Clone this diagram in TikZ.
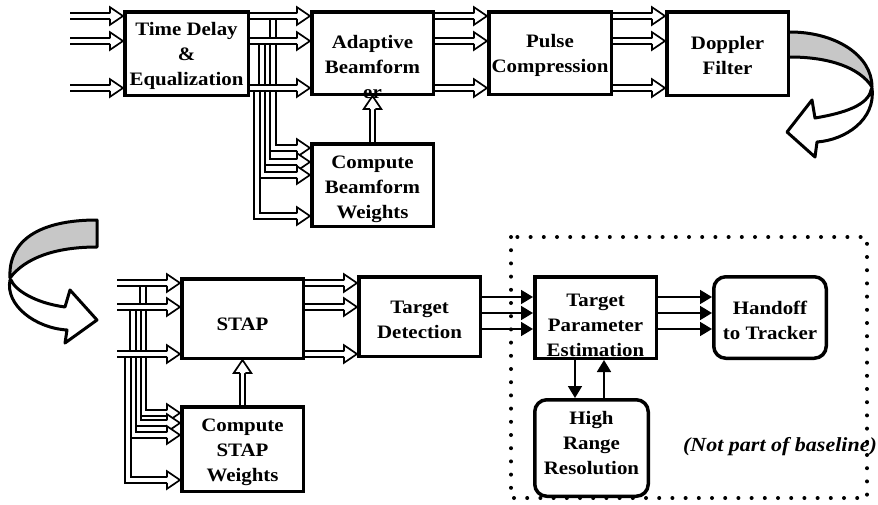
\documentclass[tikz,border=0pt]{standalone}
\usepackage{fontspec}
\setmainfont{Liberation Serif}[FakeStretch=1.1]
\usetikzlibrary{arrows.meta}
\usetikzlibrary{calc}
\usetikzlibrary{decorations.markings}

\tikzset{
  box/.style={draw, line width=3.5pt, minimum width=121.5pt, minimum height=82.5pt, inner sep=0pt},
  rbox/.style={box, rounded corners=12pt},
  txt/.style={align=center, inner sep=0pt, font=\fontsize{19}{25}\selectfont\bfseries},
  pipe/.style={double, double distance=3.8pt, line width=1.7pt},
  hollow/.style={pipe, shorten >=12pt,
    postaction={decorate, decoration={markings, mark=at position 1 with {
      \draw[line width=1.7pt, shorten >=0pt, fill=white, line join=miter]
        (-13pt,2.75pt) -- (-13pt,8.8pt) -- (0pt,0pt) -- (-13pt,-8.8pt) -- (-13pt,-2.75pt);}}}},
  sarrow/.style={line width=1.8pt, -{Triangle[length=12pt,width=14pt]}},
  ribbon/.style={line width=3pt, line join=round},
  dots/.style={line width=4pt, line cap=round, dash pattern=on 0pt off 13.2pt},
}

\begin{document}
\begin{tikzpicture}[x=1pt, y=-1pt]
\useasboundingbox (0,0) rectangle (878,504);

%texts
\node[txt] (td-t) at (186.5,56) {Time Delay\\\&\\Equalization};
\node[txt] (ab-t) at (372.5,67) {Adaptive\\Beamform\\er};
\node[txt] (pc-t) at (550,55) {Pulse\\Compression};
\node[txt] (df-t) at (727.5,55) {Doppler\\Filter};
\node[txt] (cbw-t) at (372.5,189) {Compute\\Beamform\\Weights};
\node[txt] (stap-t) at (242.5,324) {STAP};
\node[txt] (csw-t) at (242.5,452) {Compute\\STAP\\Weights};
\node[txt] (tdet-t) at (419.5,320) {Target\\Detection};
\node[txt] (tpe-t) at (595.5,325) {Target\\Parameter\\Estimation};
\node[txt] (hand-t) at (770,320) {Handoff\\to Tracker};
\node[txt] (hrr-t) at (591.5,443) {High\\Range\\Resolution};

%boxes
\node[box, minimum width=123.5pt, minimum height=83.5pt] (td) at (186.5,53.5) {};
\node[box] (ab) at (372.5,53) {};
\node[box, minimum width=122.5pt] (pc) at (550,53) {};
\node[box, minimum height=83.5pt] (df) at (727.5,53.5) {};
\node[box] (cbw) at (372.5,185) {};
\node[box, minimum height=79.5pt] (stap) at (242.5,318.5) {};
\node[box, minimum height=84.5pt] (csw) at (242.5,449) {};
\node[box, minimum height=79.5pt] (tdet) at (419.5,316.5) {};
\node[box, minimum height=81.5pt] (tpe) at (595.5,317.5) {};
\node[rbox, minimum width=112.5pt, minimum height=81.5pt] (hand) at (770,317.5) {};
\node[rbox, minimum width=113.5pt, minimum height=96.5pt] (hrr) at (591.5,448) {};

\coordinate (in-top) at (70,0);
\coordinate (in-bot) at (117,0);

%branches to the weight computations
\foreach \s/\y/\t in {23/16/148, 17/41/162, 12/41/175, 7/88/216} {
  \draw[hollow] ($(td.east |- 0,\y)+(\s,0)$) |- (cbw.west |- 0,\t);
}
\foreach \s/\y/\t in {26/283/413, 21/307/423, 16/307/435, 11/354/480} {
  \draw[hollow] ($(in-bot |- 0,\y)+(\s,0)$) |- (csw.west |- 0,\t);
}

%top row
\foreach \y in {16,41,88} {
  \draw[hollow] (in-top |- 0,\y) -- (td.west |- 0,\y);
  \draw[hollow] (td.east |- 0,\y) -- (ab.west |- 0,\y);
  \draw[hollow] (ab.east |- 0,\y) -- (pc.west |- 0,\y);
  \draw[hollow] (pc.east |- 0,\y) -- (df.west |- 0,\y);
}
\draw[hollow] (cbw.north) -- (ab.south);

%bottom row
\foreach \y in {283,307,354} {
  \draw[hollow] (in-bot |- 0,\y) -- (stap.west |- 0,\y);
  \draw[hollow] (stap.east |- 0,\y) -- (tdet.west |- 0,\y);
}
\draw[hollow] (csw.north) -- (stap.south);

\foreach \y in {297,313,329} {
  \draw[sarrow] (tdet.east |- 0,\y) -- (tpe.west |- 0,\y);
  \draw[sarrow] (tpe.east |- 0,\y) -- (hand.west |- 0,\y);
}
\draw[sarrow] (tpe.south -| 575,0) -- (hrr.north -| 575,0);
\draw[sarrow] (hrr.north -| 604,0) -- (tpe.south -| 604,0);

%twisted arrows
\draw[ribbon, fill=black!22] (790,32) .. controls (835,32) and (872,55) .. (872,87)
  .. controls (860,68) and (830,57) .. (790,57);
\draw[ribbon, fill=white] (872,88) .. controls (876,120) and (845,140) .. (817,142)
  -- (815,157) -- (787,132) -- (812,100) -- (815,118)
  .. controls (845,113) and (868,105) .. (871,90) -- cycle;

\draw[ribbon, fill=black!22] (97,220) .. controls (40,220) and (8,240) .. (10,278)
  .. controls (25,258) and (55,247) .. (97,247) -- cycle;
\draw[ribbon, fill=white] (10,280) .. controls (5,305) and (35,328) .. (67,330)
  -- (65,343) -- (97,320) -- (70,290) -- (65,307)
  .. controls (35,303) and (15,290) .. (11,280) -- cycle;

%extension
\draw[dots] (511,237) rectangle (867,498);
\node[font=\fontsize{20}{24}\selectfont\bfseries\itshape, inner sep=0pt] (note) at (780,447) {(Not part of baseline)};
\end{tikzpicture}
\end{document}
